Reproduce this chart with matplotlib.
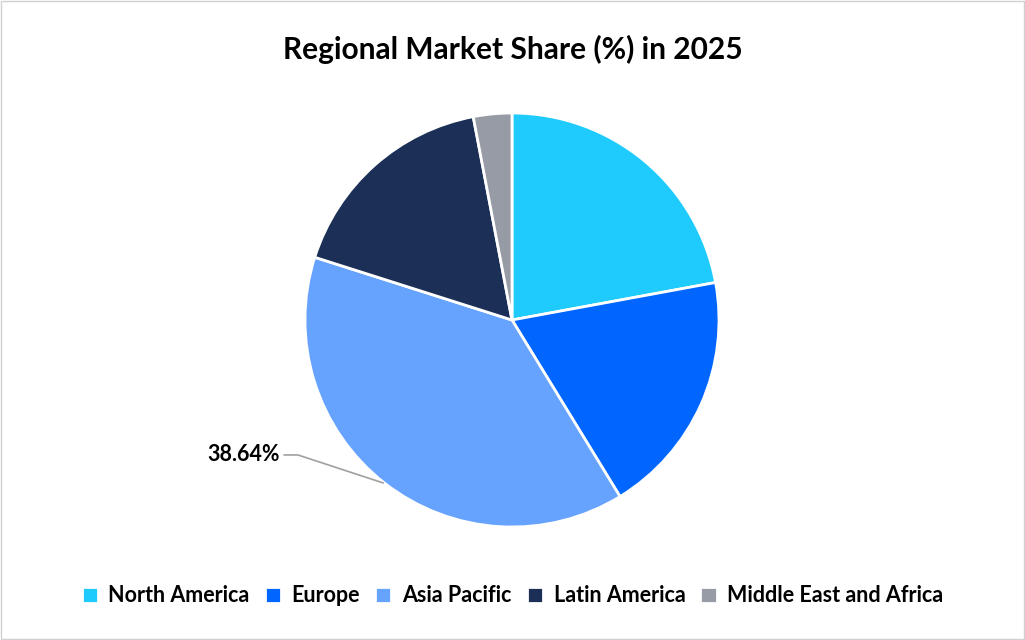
import matplotlib
matplotlib.use("Agg")
import matplotlib.pyplot as plt

labels = ["North America", "Europe", "Asia Pacific", "Latin America", "Middle East and Africa"]
values = [22.1, 19.16, 38.64, 17.1, 3.0]
colors = ["#1ECBFC", "#0066FF", "#66A3FF", "#1B2F57", "#979BA6"]

plt.rcParams['font.family'] = ['Lato', 'DejaVu Sans']
fig = plt.figure(figsize=(10.25, 6.4), dpi=100)
fig.patches.append(plt.Rectangle((0.001, 0.001), 0.998, 0.998, transform=fig.transFigure,
                                 fill=False, edgecolor="#D0D0D0", linewidth=1))
ax = fig.add_axes([(512 - 207) / 1025, 1 - (320 + 207) / 640, 414 / 1025, 414 / 640])
wedges, _ = ax.pie(values, colors=colors, startangle=90, counterclock=False,
                   wedgeprops=dict(edgecolor="white", linewidth=2))
ax.set_aspect('equal')
ax.set_xlim(-1, 1); ax.set_ylim(-1, 1)

ax.plot([-1.10, -1.034, -0.623], [-0.652, -0.652, -0.787], color="#A0A0A0", lw=1.2,
        clip_on=False)
ax.text(-1.12, -0.652, f"{values[2]:.2f}%", ha="right", va="center",
        fontsize=15.5, fontweight="bold")

fig.text(0.5, 0.922, "Regional Market Share (%) in 2025", ha="center", va="center",
         fontsize=21.5, fontweight="bold")
fig.legend(wedges, labels, loc="center", bbox_to_anchor=(0.5, 0.069), ncol=5,
           frameon=False, prop=dict(weight="bold", size=15.5),
           handlelength=0.75, handleheight=0.75, handletextpad=0.5, columnspacing=0.7)
fig.savefig("out.png", dpi=100)
